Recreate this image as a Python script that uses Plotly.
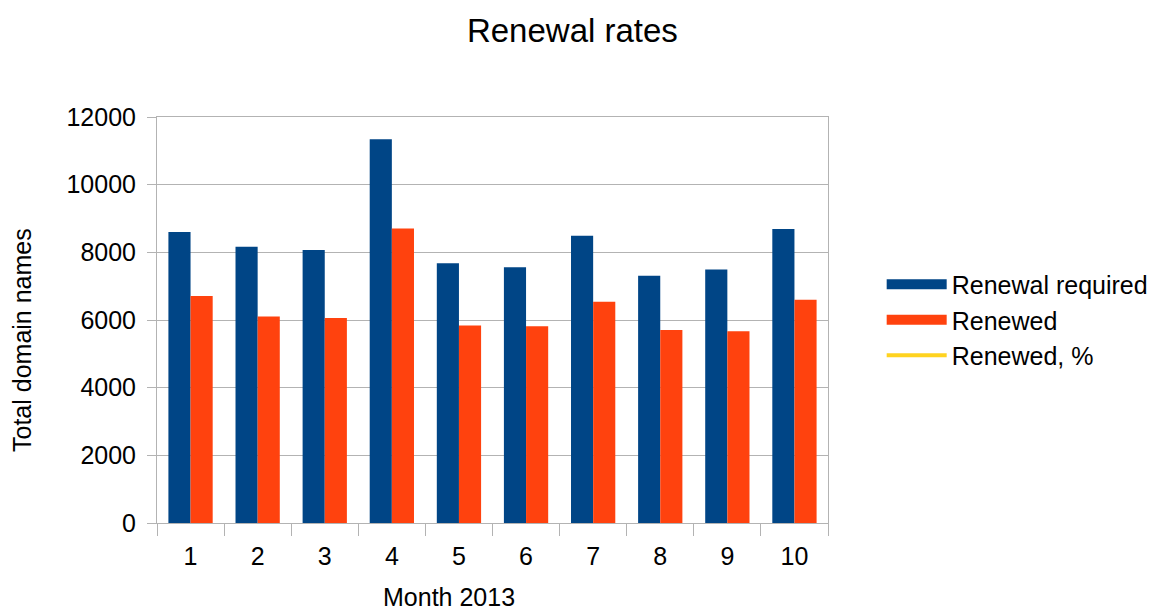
import plotly.graph_objects as go

months = ["1", "2", "3", "4", "5", "6", "7", "8", "9", "10"]
renewal_required = [8600, 8165, 8070, 11345, 7675, 7560, 8490, 7310, 7490, 8690]
renewed = [6710, 6100, 6060, 8705, 5835, 5815, 6540, 5705, 5670, 6600]
renewed_pct = [None]  # line series listed in legend only (not visible on chart)

FONT = "Liberation Sans, Arial, sans-serif"
GRID = "#b3b3b3"
BLUE = "#004586"
ORANGE = "#ff420e"
YELLOW = "#ffd320"

L, R, T, B = 157, 326, 117, 92
W, H = 1154, 615
PW, PH = W - L - R, H - T - B


def px_x(px):
    return (px - L) / PW


def px_y(py):
    return (H - B - py) / PH


fig = go.Figure()
fig.add_trace(go.Bar(name="Renewal required", x=months, y=renewal_required,
                     marker=dict(color=BLUE, line=dict(width=0)), showlegend=False))
fig.add_trace(go.Bar(name="Renewed", x=months, y=renewed,
                     marker=dict(color=ORANGE, line=dict(width=0)), showlegend=False))
# legend entries (wide swatches like the original)
fig.add_trace(go.Scatter(name="Renewal required", x=[None], y=[None], mode="lines",
                         line=dict(color=BLUE, width=17)))
fig.add_trace(go.Scatter(name="Renewed", x=[None], y=[None], mode="lines",
                         line=dict(color=ORANGE, width=17)))
fig.add_trace(go.Scatter(name="Renewed, %", x=[None], y=renewed_pct, mode="lines",
                         line=dict(color=YELLOW, width=4)))

fig.update_layout(
    width=W, height=H,
    paper_bgcolor="white", plot_bgcolor="white",
    margin=dict(l=L, r=R, t=T, b=B, autoexpand=False),
    font=dict(family=FONT, size=25, color="#000000"),
    title=dict(text="Renewal rates", x=0.496, xanchor="center", y=0.95, yanchor="middle",
               font=dict(family=FONT, size=33, color="#000000")),
    barmode="group", bargap=0.34, bargroupgap=0,
    legend=dict(x=1.08, y=0.5, xanchor="left", yanchor="middle",
                font=dict(family=FONT, size=25), tracegroupgap=0,
                itemwidth=60, bgcolor="rgba(0,0,0,0)"),
    showlegend=True,
    annotations=[
        dict(text="Month 2013", xref="paper", yref="paper",
             x=px_x(449), y=px_y(613), xanchor="center", yanchor="bottom",
             showarrow=False, font=dict(family=FONT, size=25)),
        dict(text="Total domain names", xref="paper", yref="paper",
             x=px_x(22), y=px_y(340), xanchor="center", yanchor="middle",
             textangle=-90, showarrow=False, font=dict(family=FONT, size=25)),
    ],
)
fig.update_xaxes(
    type="category", tickson="boundaries", ticks="outside", ticklen=12,
    tickcolor=GRID, tickwidth=1, showgrid=False,
    showline=True, linecolor=GRID, linewidth=1, mirror=True,
    tickfont=dict(family=FONT, size=25), ticklabelstandoff=11,
    automargin=False,
)
fig.update_yaxes(
    range=[0, 12000], dtick=2000, tickformat="d",
    ticks="outside", ticklen=9, tickcolor=GRID, tickwidth=1,
    showgrid=True, gridcolor=GRID, gridwidth=1,
    showline=True, linecolor=GRID, linewidth=1, mirror=True,
    zeroline=False,
    tickfont=dict(family=FONT, size=25), ticklabelstandoff=6,
    automargin=False,
)

fig.write_html("out.html")
